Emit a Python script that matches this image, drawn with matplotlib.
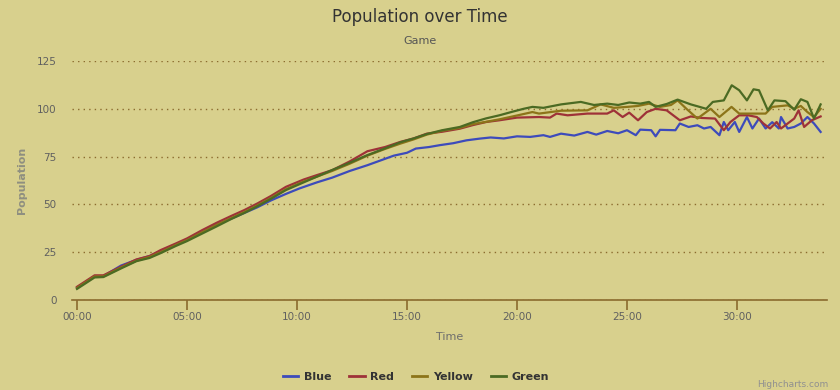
import matplotlib
matplotlib.use("Agg")
import matplotlib.pyplot as plt
from matplotlib.ticker import FuncFormatter, MultipleLocator
from matplotlib.lines import Line2D

# time in minutes, population values
blue_t = [0, 0.8, 1.2, 2, 2.7, 3.3, 3.8, 4.5, 5, 5.7, 6.35, 7, 7.6, 8.2, 8.8, 9.5, 10.1, 10.9,
          11.6, 12.4, 13.2, 13.8, 14.4, 15, 15.4, 16, 16.5, 17.1, 17.7, 18.3, 18.8, 19.4, 20,
          20.6, 21.2, 21.5, 22, 22.6, 23.2, 23.6, 24.1, 24.6, 25, 25.4, 25.6, 26.1, 26.3, 26.5,
          27.2, 27.4, 27.8, 28.2, 28.5, 28.8, 29.2, 29.4, 29.6, 29.9, 30.1, 30.45, 30.7, 31,
          31.3, 31.6, 31.9, 32.0, 32.3, 32.6, 32.9, 33.2, 33.5, 33.8]
blue = [6.5, 12.5, 12.5, 18, 21, 23, 25.5, 29, 31.5, 35.5, 39.5, 42.5, 45.5, 48.5, 52, 55.5, 58.3, 61.5,
        64, 67.5, 70.5, 73, 75.5, 77, 79.2, 80, 81, 82, 83.5, 84.4, 85, 84.5, 85.6,
        85.3, 86.2, 85.3, 87, 86, 87.9, 86.5, 88.4, 87.2, 88.8, 86.2, 89.1, 88.8, 85.6, 89,
        88.8, 92.3, 90.5, 91.4, 89.7, 90.5, 86.2, 93.1, 88.8, 93.1, 87.9, 95.7, 89.7, 94.9,
        89.7, 93, 89.7, 95.7, 89.7, 90.5, 92.3, 95.7, 92.3, 87.9]

red_t = [0, 0.8, 1.2, 2, 2.7, 3.3, 3.8, 4.5, 5, 5.7, 6.35, 7, 7.6, 8.2, 8.8, 9.5, 10.3, 10.9,
         11.6, 12.4, 13.2, 14, 14.7, 15.3, 15.9, 16.6, 17.4, 18, 18.6, 19.2, 20, 21, 21.5, 21.8,
         22.3, 23.2, 24.1, 24.4, 24.8, 25.1, 25.5, 25.9, 26.3, 26.8, 27.4, 27.9, 28.4, 29, 29.4,
         29.7, 30.1, 30.5, 30.9, 31.2, 31.5, 31.8, 32, 32.3, 32.6, 32.8, 33.05, 33.4, 33.8]
red = [6.9, 12.9, 12.9, 17.4, 21.2, 23, 26.1, 29.6, 32.2, 36.6, 40.4, 43.9, 47, 50.5, 54.3, 59.2, 63, 65.3,
       67.9, 72.5, 77.8, 80, 82.7, 84.5, 87, 88, 89.6, 91.5, 93.1, 94, 95.4, 95.7, 95.4, 97.5,
       96.6, 97.5, 97.5, 99.2, 95.7, 98, 94, 98.3, 100, 99.2, 94, 96, 95.2, 94.9, 88.8,
       93.1, 96.6, 96.6, 95.7, 92.3, 89.7, 93.1, 89.7, 92.3, 94.9, 99.2, 90.5, 94, 96]

yellow_t = [0, 0.8, 1.2, 2, 2.7, 3.3, 3.8, 4.5, 5, 5.7, 6.35, 7, 7.6, 8.2, 8.8, 9.5, 10.3, 10.9,
            11.6, 12.4, 13.2, 14, 14.7, 15.3, 15.9, 16.6, 17.4, 18, 18.6, 19.2, 20, 20.7, 21, 22,
            23.2, 23.8, 24.4, 25, 25.5, 26, 26.5, 27, 27.3, 27.7, 28.2, 28.8, 29.2, 29.75, 30.1,
            31.3, 31.6, 32.3, 32.6, 32.9, 33.2, 33.5, 33.8]
yellow = [6.3, 12.3, 12.3, 17, 20.5, 22.5, 25, 28.8, 31.3, 35.5, 39.3, 42.8, 46, 49.5, 53.3, 58, 62, 64.5,
          67.5, 71.3, 75.5, 79, 81.8, 84, 86.5, 88.5, 90, 92, 93.2, 94.5, 96.5, 98.3, 97.5, 99,
          99.2, 102.3, 100.5, 101, 101.5, 102.7, 101, 102, 104.4, 100, 94.9, 100, 95.7, 101, 97.5,
          97.5, 101, 101.8, 100, 101.5, 98.3, 95.7, 100]

green_t = [0, 0.8, 1.2, 2, 2.7, 3.3, 3.8, 4.5, 5, 5.7, 6.35, 7, 7.6, 8.2, 8.8, 9.5, 10.3, 10.9,
           11.6, 12.4, 13.2, 14, 14.7, 15.3, 15.9, 16.6, 17.4, 18, 18.6, 19.2, 19.8, 20.3, 20.7,
           21.2, 22, 22.9, 23.5, 24.1, 24.6, 25.1, 25.6, 26, 26.3, 26.8, 27.3, 27.9, 28.3, 28.6,
           28.9, 29.4, 29.76, 30.1, 30.45, 30.75, 31.0, 31.4, 31.7, 32.2, 32.6, 32.9, 33.2, 33.5, 33.8]
green = [5.8, 11.8, 12, 16.5, 20.3, 22, 24.5, 28.3, 30.8, 34.8, 38.5, 42.3, 45.5, 49, 52.8, 57.5, 61.5, 64.5,
         68, 71.8, 75.8, 79.3, 82.5, 84.5, 86.8, 88.8, 90.5, 93, 95, 96.6, 98.5, 100, 101,
         100.5, 102.3, 103.6, 102, 102.7, 102, 103.3, 102.7, 103.6, 101, 102.5, 104.8, 102.3, 101, 100,
         103.6, 104.4, 112.3, 109.7, 104.4, 110.2, 109.7, 99.2, 104.4, 104, 99.5, 105, 103.6, 94.9, 102.3]

series = [("Blue", blue_t, blue, "#3d4bbb"),
          ("Red", red_t, red, "#9e3238"),
          ("Yellow", yellow_t, yellow, "#8c7419"),
          ("Green", green_t, green, "#4b6a23")]

bg = "#d8d08d"
axis_col = "#8b6b2e"

fig = plt.figure(figsize=(8.4, 3.9), dpi=100, facecolor=bg)
ax = fig.add_axes([72 / 840, 1 - 300 / 390, 755 / 840, 239 / 390])
ax.set_facecolor(bg)

for name, t, v, c in series:
    ax.plot(t, v, color=c, lw=1.6, solid_joinstyle="round")

ax.set_xlim(-0.227, 34.09)
ax.set_ylim(0, 125)
ax.yaxis.set_major_locator(MultipleLocator(25))
ax.xaxis.set_major_locator(MultipleLocator(5))
ax.xaxis.set_major_formatter(FuncFormatter(lambda m, p: "%02d:00" % int(round(m))))

ax.grid(axis="y", color=axis_col, linestyle=(0, (1, 3)), lw=1.0)
ax.set_axisbelow(True)
for s in ["top", "right", "left"]:
    ax.spines[s].set_visible(False)
ax.spines["bottom"].set_color(axis_col)
ax.spines["bottom"].set_linewidth(1.2)

ax.tick_params(axis="x", colors=axis_col, length=7, width=1.2, pad=2,
               labelcolor="#606060", labelsize=7.5)
ax.tick_params(axis="y", length=0, pad=11, labelcolor="#606060", labelsize=7.5)

ax.set_xlabel("Time", color="#6d6d6d", fontsize=8, labelpad=7)
ax.set_ylabel("Population", color="#8f8f80", fontsize=8, fontweight="bold", labelpad=7)

fig.text(0.5, 1 - 17 / 390, "Population over Time", ha="center", va="center",
         fontsize=12, color="#333333")
fig.text(0.5, 1 - 41 / 390, "Game", ha="center", va="center",
         fontsize=8, color="#555555")

handles = [Line2D([], [], color=c, lw=2) for _, _, _, c in series]
fig.legend(handles, [s[0] for s in series], loc="center", ncol=4,
           bbox_to_anchor=(416 / 840, 1 - 377 / 390), frameon=False,
           handlelength=1.4, handletextpad=0.5, columnspacing=1.6,
           prop={"weight": "bold", "size": 8}, labelcolor="#333333")

fig.text(828 / 840, 1 / 390, "Highcharts.com", ha="right", va="bottom",
         fontsize=6.5, color="#909090")

fig.savefig("out.png", dpi=100, facecolor=bg)
